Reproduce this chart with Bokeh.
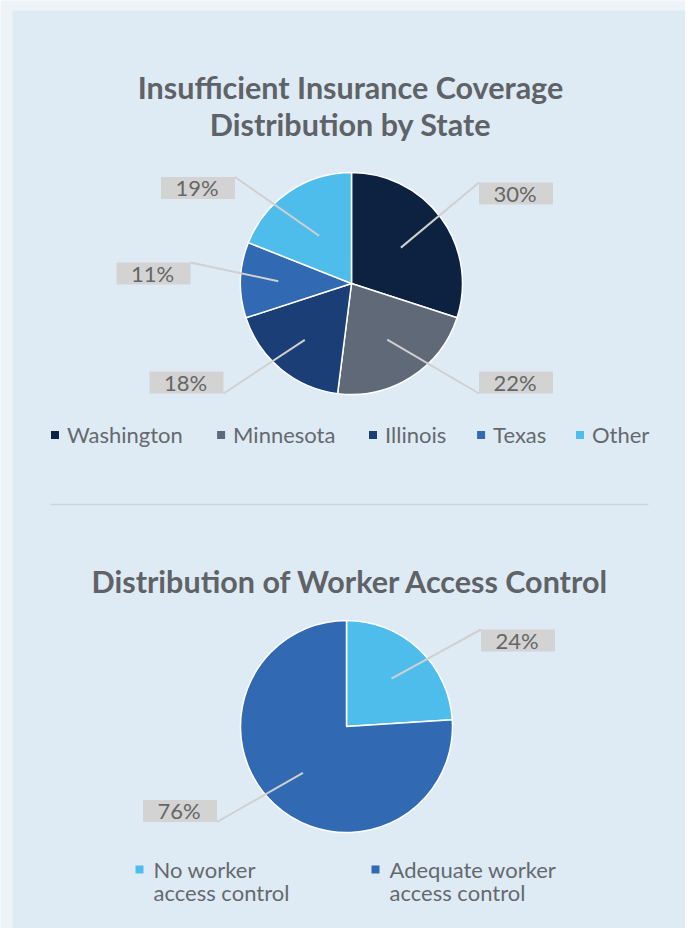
import numpy as np
from bokeh.plotting import figure
from bokeh.models import Range1d
from bokeh.embed import file_html
from bokeh.resources import INLINE
from bokeh.core.properties import value

# ---------------- data ----------------
title_1 = "Insufficient Insurance Coverage\nDistribution by State"
states = ["Washington", "Minnesota", "Illinois", "Texas", "Other"]
state_shares = [30, 22, 18, 11, 19]
state_colors = ["#0d2140", "#5f6978", "#1a3e75", "#3169b2", "#4fbdec"]

title_2 = "Distribution of Worker Access Control"
access_categories = ["No worker\naccess control", "Adequate worker\naccess control"]
access_shares = [24, 76]
access_colors = ["#4fbdec", "#3169b2"]

# ---------------- layout (reference pixels) ----------------
W, H = 685, 928
TOP = 936  # data y = TOP - pixel y


def Y(py):
    return TOP - np.asarray(py, dtype=float)


FONT = value("Lato")
TITLE_COLOR = "#5f6266"
TEXT_COLOR = "#65696d"
LABEL_BOX = "#d3d3d3"
LEADER = "#d0d0d0"

p = figure(width=W, height=H, x_range=Range1d(0, W), y_range=Range1d(TOP - H, TOP),
           output_backend="svg", toolbar_location=None, min_border=0)
p.axis.visible = False
p.grid.visible = False
p.outline_line_color = None
p.background_fill_color = "#edf3f7"
p.border_fill_color = "#edf3f7"

# panel
p.quad(left=[12], right=[689], top=[Y(10)], bottom=[Y(940)], fill_color="#deebf5", line_color=None)


def draw_lines(lines, x, y0, dy, **kw):
    ys = [y0 + i * dy for i in range(len(lines))]
    p.text(x=[x] * len(lines), y=Y(ys), text=lines, **kw)


def draw_pie(shares, colors, cx, cy, r, label_pos, anchor_frac):
    shares = np.asarray(shares, dtype=float)
    frac = shares / shares.sum()
    cum = np.concatenate([[0], np.cumsum(frac)])
    a_start = np.pi / 2 - cum[:-1] * 2 * np.pi
    a_end = np.pi / 2 - cum[1:] * 2 * np.pi
    p.wedge(x=cx, y=Y(cy), radius=r, start_angle=a_start, end_angle=a_end,
            direction="clock", fill_color=colors, line_color="white", line_width=1.5)
    mid = (a_start + a_end) / 2
    ax = cx + np.asarray(anchor_frac) * r * np.cos(mid)
    ay = Y(cy) + np.asarray(anchor_frac) * r * np.sin(mid)
    bw, bh = 74, 22
    lx = np.array([q[0] for q in label_pos], dtype=float)
    ly = Y([q[1] for q in label_pos])
    ex = np.where(lx > cx, lx - bw / 2, lx + bw / 2)
    ey = np.where(ly > Y(cy), ly + bh / 2, ly - bh / 2)
    p.segment(x0=ax, y0=ay, x1=ex, y1=ey, line_color=LEADER, line_width=2)
    p.rect(x=lx, y=ly, width=bw, height=bh, fill_color=LABEL_BOX, line_color=None)
    labels = ["%d%%" % round(s) for s in shares]
    p.text(x=lx - 1, y=ly + 0.5, text=labels, text_font=FONT, text_font_size="22px",
           text_color="#666666", text_align="center", text_baseline="middle")


title_kw = dict(text_font=FONT, text_font_size="30.5px", text_font_style="bold",
                text_color=TITLE_COLOR, text_align="center", text_baseline="middle")
legend_kw = dict(text_font=FONT, text_font_size="22px", text_color=TEXT_COLOR,
                 text_align="left", text_baseline="middle")

# ---------------- chart 1 ----------------
draw_lines(title_1.split("\n"), 350, 86, 37, **title_kw)

draw_pie(state_shares, state_colors, 351, 283, 111,
         label_pos=[(515.5, 193), (515.5, 382), (186, 382), (153, 273), (197.5, 187.5)],
         anchor_frac=[0.55, 0.6, 0.66, 0.66, 0.52])

leg1_marker_x = [54.5, 220.6, 372.5, 480.6, 579.5]
p.scatter(x=leg1_marker_x, y=Y([434.5] * 5), marker="square", size=8,
          fill_color=state_colors, line_color=None)
p.text(x=[m + 12 for m in leg1_marker_x], y=Y([434] * 5), text=states, **legend_kw)

# divider
p.segment(x0=[50], y0=Y([504]), x1=[648], y1=Y([504]), line_color="#cfd5da", line_width=1.5)

# ---------------- chart 2 ----------------
draw_lines([title_2], 350, 580, 0, **title_kw)

draw_pie(access_shares, access_colors, 346, 726, 106,
         label_pos=[(517.5, 640), (179.5, 810.5)],
         anchor_frac=[0.62, 0.6])

leg2_marker_x = [139, 375]
p.scatter(x=leg2_marker_x, y=Y([869] * 2), marker="square", size=8,
          fill_color=access_colors, line_color=None)
for mx, cat in zip(leg2_marker_x, access_categories):
    draw_lines(cat.split("\n"), mx + 14, 869, 23, **legend_kw)

open("out.html", "w").write(file_html(p, INLINE))
